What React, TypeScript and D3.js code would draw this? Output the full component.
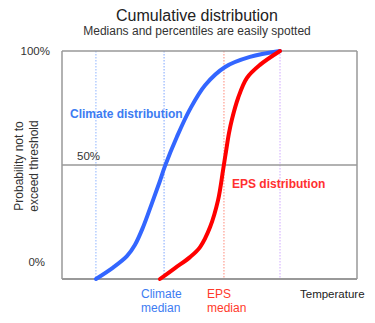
import React from "react";
import * as d3 from "d3";

const climateT = [1.15, 1.73, 2.2, 2.47, 2.75, 3.05, 3.32, 3.49, 3.9, 4.34, 4.85, 5.53, 6.37, 7.39];
const climateP = [0, 0.05, 0.1, 0.149, 0.228, 0.333, 0.43, 0.495, 0.625, 0.745, 0.85, 0.93, 0.974, 1.0];
const epsT = [3.32, 3.83, 4.34, 4.68, 5.02, 5.29, 5.46, 5.56, 5.66, 5.76, 5.97, 6.27, 6.71, 7.39];
const epsP = [0, 0.048, 0.096, 0.14, 0.228, 0.346, 0.478, 0.56, 0.64, 0.7, 0.794, 0.882, 0.939, 1.0];
const refLines = [
  { t: 1.15, color: "#8fb4ff" },
  { t: 3.46, color: "#7fa6ff" },
  { t: 5.49, color: "#ff8a7a" },
  { t: 7.39, color: "#cfa8ff" },
];
const yTickLabels = ["0%", "50%", "100%"];

export default function App() {
  const W = 375, H = 323;
  const x = d3.scaleLinear().domain([0, 10]).range([62, 357]);
  const y = d3.scaleLinear().domain([0, 1]).range([279, 51]);
  const line = d3
    .line<[number, number]>()
    .x((d) => x(d[0]))
    .y((d) => y(d[1]))
    .curve(d3.curveCatmullRom.alpha(0.5));
  const climate = climateT.map((t, i) => [t, climateP[i]] as [number, number]);
  const eps = epsT.map((t, i) => [t, epsP[i]] as [number, number]);
  const font = "'Liberation Sans', Arial, sans-serif";
  const gray = "#999";

  return (
    <svg width={W} height={H} style={{ position: "absolute", left: 0, top: 0, fontFamily: font }}>
      <rect width={W} height={H} fill="#fff" />
      <text x={197} y={21} textAnchor="middle" fontSize={16} fill="#222">Cumulative distribution</text>
      <text x={197} y={35} textAnchor="middle" fontSize={12} fill="#333">Medians and percentiles are easily spotted</text>

      {refLines.map((r, i) => (
        <line key={i} x1={x(r.t)} x2={x(r.t)} y1={y(1)} y2={y(0)} stroke={r.color} strokeWidth={1} strokeDasharray="1.5,1.5" />
      ))}

      <line x1={x(0)} x2={x(0)} y1={y(1)} y2={y(0)} stroke={gray} strokeWidth={1.5} />
      <line x1={x(10)} x2={x(10)} y1={y(1)} y2={y(0)} stroke={gray} strokeWidth={1.5} />
      <line x1={x(0)} x2={x(10)} y1={y(1)} y2={y(1)} stroke={gray} strokeWidth={1.5} />
      <line x1={x(0)} x2={x(10)} y1={y(0.5)} y2={y(0.5)} stroke={gray} strokeWidth={1.5} />
      <line x1={x(0)} x2={x(10)} y1={y(0)} y2={y(0)} stroke={gray} strokeWidth={2} />

      <path d={line(climate) ?? ""} fill="none" stroke="#3366ff" strokeWidth={4} strokeLinecap="round" />
      <path d={line(eps) ?? ""} fill="none" stroke="#ff0000" strokeWidth={4} strokeLinecap="round" />

      <text x={50} y={y(1) + 4} textAnchor="end" fontSize={11.5} fill="#333">{yTickLabels[2]}</text>
      <text x={77} y={y(0.5) - 5} fontSize={11.5} fill="#333">{yTickLabels[1]}</text>
      <text x={45} y={y(0) - 13} textAnchor="end" fontSize={11.5} fill="#333">{yTickLabels[0]}</text>

      <g transform="translate(0,166) rotate(-90)" fontSize={12} fill="#333" textAnchor="middle">
        <text x={0} y={23}>Probability not to</text>
        <text x={0} y={38}>exceed threshold</text>
      </g>

      <text x={70} y={118} fontSize={12} fontWeight="bold" fill="#3d7cf2">Climate distribution</text>
      <text x={232} y={188} fontSize={12} fontWeight="bold" fill="#ff3030">EPS distribution</text>

      <text x={141} y={298} fontSize={12} fill="#3d7cf2">Climate</text>
      <text x={141} y={312} fontSize={12} fill="#3d7cf2">median</text>
      <text x={207} y={298} fontSize={12} fill="#ff3a2a">EPS</text>
      <text x={207} y={312} fontSize={12} fill="#ff3a2a">median</text>
      <text x={300} y={298} fontSize={11.5} fill="#222">Temperature</text>
    </svg>
  );
}
